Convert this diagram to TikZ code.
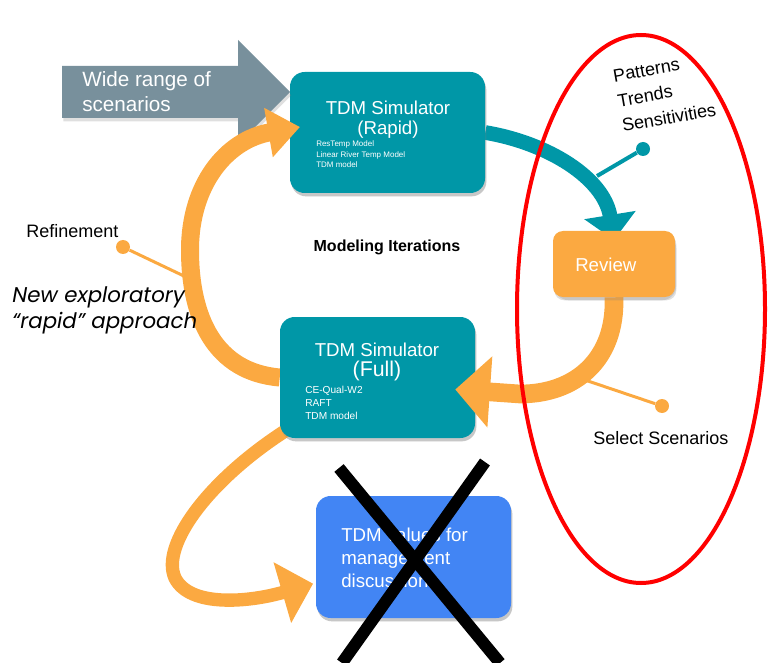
\documentclass[tikz,border=0pt]{standalone}
\usepackage{fontspec}
\setmainfont{Liberation Sans}
\newfontfamily\italicfont{Poppins}
\usetikzlibrary{arrows.meta,shadows}
\definecolor{tdmteal}{RGB}{0,151,167}
\definecolor{tdmorange}{RGB}{251,169,65}
\definecolor{tdmgrey}{RGB}{120,144,156}
\definecolor{tdmblue}{RGB}{66,133,244}
\tikzset{
    box/.style={rounded corners=11pt, inner sep=0pt, drop shadow={opacity=0.25, shadow xshift=1pt, shadow yshift=-2.5pt}}, % boxes
    boxtitle/.style={white, align=center, inner sep=0pt, font=\fontsize{14}{15}\selectfont}, % box titles
    boxlist/.style={white, align=left, inner sep=0pt, anchor=base west}, % small model lists
    note/.style={black, align=left, inner sep=0pt, anchor=base west, font=\fontsize{13.5}{19}\selectfont}, % side labels
    dot/.style={circle, fill, inner sep=0pt, minimum size=10.5pt}, % callout dots
    callout/.style={line width=2.25pt} % callout lines
}
\begin{document}
\begin{tikzpicture}[x=0.75pt, y=-0.75pt]
    \useasboundingbox (0,0) rectangle (768,663);

    % callouts under the bands
    \node[dot, tdmteal] (tealdot) at (643,149) {};
    \coordinate (tealend) at (597,176);
    \draw[callout, tdmteal, line width=3pt] (tealdot) -- (tealend);
    \node[dot, tdmorange] (refdot) at (123,247) {};
    \coordinate (refend) at (186,277);
    \draw[callout, tdmorange] (refdot) -- (refend);
    \node[dot, tdmorange] (seldot) at (662,406) {};
    \coordinate (selend) at (585,380);
    \draw[callout, tdmorange] (seldot) -- (selend);

    % rapid -> review
    \node[box, minimum width=91.5pt, minimum height=49.5pt] (review) at (614,264) {};
    \node[box, minimum width=146.25pt, minimum height=90.75pt] (rapid) at (387.5,132.5) {};
    \draw[tdmteal, line width=11pt, -{Triangle[length=19pt, width=38pt]}] (rapid.east) .. controls (548,143) and (604,178) .. ([yshift=-7pt]review.north);
    \node[box, fill=tdmteal, minimum width=146.25pt, minimum height=90.75pt] at (rapid) {};
    \node[boxtitle, anchor=base] (rapidtitle) at (388,135) {TDM Simulator\\(Rapid)};
    \node[boxlist, font=\fontsize{6}{7.9}\selectfont] (rapidlist) at (316,168) {ResTemp Model\\Linear River Temp Model\\TDM model};

    % wide range arrow
    \fill[tdmgrey, drop shadow={opacity=0.25, shadow xshift=1pt, shadow yshift=-2.5pt}] (62,66) -- (238,66) -- (238,40) -- (290,92) -- (238,144) -- (238,118) -- (62,118) -- cycle;
    \node[white, align=left, inner sep=0pt, anchor=base west, font=\fontsize{15.5}{19}\selectfont] (wide) at (82,112) {Wide range of\\scenarios};

    % full -> rapid loop and full -> values
    \node[box, minimum width=146.25pt, minimum height=90.75pt] (full) at (377.5,377.5) {};
    \draw[tdmorange, line width=13.5pt, -{Triangle[length=24pt, width=36pt]}] (full.west) .. controls (215,372) and (190,318) .. (190,250) .. controls (190,185) and (226,140) .. (300,127);
    \node[box, minimum width=146.25pt, minimum height=91.5pt] (values) at (413.5,557) {};
    \draw[tdmorange, line width=10pt, -{Triangle[length=24pt, width=46pt]}] ([shift={(8pt,8pt)}]full.south west) .. controls (210,478) and (160,545) .. (175,578) .. controls (190,608) and (250,602) .. ([shift={(-2pt,-20pt)}]values.west);
    \node[box, fill=tdmteal, minimum width=146.25pt, minimum height=90.75pt] at (full) {};
    \node[boxtitle, anchor=base] (fulltitle) at (377,376) {TDM Simulator\\{\fontsize{16}{17}\selectfont(Full)}};
    \node[boxlist, font=\fontsize{7.6}{9.4}\selectfont] (fulllist) at (305,419) {CE-Qual-W2\\RAFT\\TDM model};

    % review -> full
    \draw[tdmorange, line width=14pt, -{Triangle[length=26pt, width=52pt]}] (review.south) .. controls (616,360) and (575,394) .. (520,394) -- ([shift={(-15pt,-9pt)}]full.east);
    \node[box, fill=tdmorange, rounded corners=7.5pt, minimum width=91.5pt, minimum height=49.5pt] at (review) {};
    \node[white, inner sep=0pt, anchor=base west, font=\fontsize{14}{15}\selectfont] (reviewtext) at (575,272) {Review};

    % values box
    \node[box, fill=tdmblue, minimum width=146.25pt, minimum height=91.5pt] at (values) {};
    \node[white, align=left, inner sep=0pt, anchor=base west, font=\fontsize{14}{17}\selectfont] (valuestext) at (341,587) {TDM values for\\management\\discussion};

    % labels
    \node[note] (refine) at (26,238) {Refinement};
    \node[note, font=\italicfont\itshape\fontsize{16}{19}\selectfont] (newway) at (12,328) {New exploratory\\“rapid” approach};
    \node[inner sep=0pt, anchor=base, font=\bfseries\fontsize{12}{14}\selectfont] (iter) at (387,252) {Modeling Iterations};
    \node[note, rotate=10] (patterns) at (623,132) {Patterns\\Trends\\Sensitivities};
    \node[note] (select) at (593,444) {Select Scenarios};

    % red ring and the cross
    \draw[red, line width=3pt] (641,309) ellipse [x radius=93pt, y radius=205.5pt];
    \draw[line width=9pt] (339,468) -- (500,663);
    \draw[line width=9pt] (485,462) -- (342,663);
\end{tikzpicture}
\end{document}
